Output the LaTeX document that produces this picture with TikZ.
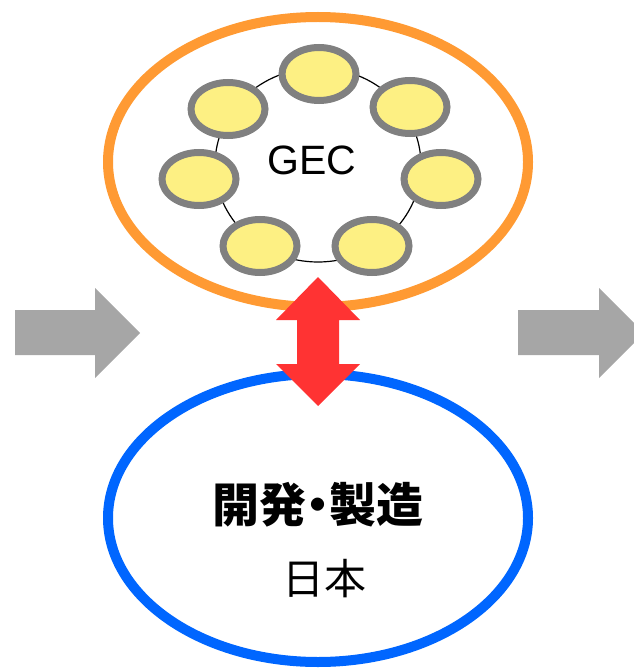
\documentclass[tikz,border=0pt]{standalone}
\usepackage{fontspec}
\setmainfont{Liberation Sans}
\newfontfamily\jp{Noto Sans CJK JP}
\newfontfamily\jpp[RawFeature=+palt]{Noto Sans CJK JP}
\usetikzlibrary{shapes.geometric}
\definecolor{orangeR}{HTML}{FF9A33}
\definecolor{blueR}{HTML}{0066FF}
\definecolor{redR}{HTML}{FF3333}
\definecolor{grayA}{HTML}{A6A6A6}
\definecolor{grayE}{HTML}{808080}
\definecolor{yellowE}{HTML}{FDF083}
\tikzset{
  bigell/.style={ellipse, draw, line width=10pt, minimum width=420pt, inner sep=0pt},
  member/.style={ellipse, draw=grayE, fill=yellowE, line width=7pt, minimum width=74pt, minimum height=53pt, inner sep=0pt},
  flowarrow/.style={fill=grayA, draw=none},
  linkarrow/.style={fill=redR, draw=none}
}
\begin{document}
\begin{tikzpicture}[x=1pt,y=-1pt]
\useasboundingbox (0,0) rectangle (633,668);
\node[bigell, draw=orangeR, minimum height=290pt] (gec) at (318,162) {};
\node[ellipse, draw=black, line width=1.2pt, minimum width=206pt, minimum height=194pt, inner sep=0pt] (ring) at (318,165) {};
\node[member] (m1) at (319,74) {};
\node[member] (m2) at (410,107) {};
\node[member] (m3) at (441,179) {};
\node[member] (m4) at (372,246) {};
\node[member] (m5) at (260,246) {};
\node[member] (m6) at (199,179) {};
\node[member] (m7) at (228,109) {};
\node[font=\fontsize{41}{41}\selectfont] (gectext) at (312,160) {GEC};
\node[bigell, draw=blueR, minimum height=288pt] (jpn) at (318,518) {};
\node[font=\jpp\bfseries\fontsize{47}{47}\selectfont] (dev) at (318,505) {開発・製造};
\node[font=\jp\fontsize{42}{42}\selectfont] (japan) at (324,579) {日本};
\fill[flowarrow] (15,310) -- (95,310) -- (95,288) -- (140,333) -- (95,378) -- (95,355) -- (15,355) -- cycle;
\fill[flowarrow] (518,310) -- (599,310) -- (599,288) -- (644,333) -- (599,378) -- (599,355) -- (518,355) -- cycle;
\fill[linkarrow] (318,277) -- (360,320) -- (339,320) -- (339,364) -- (360,364) -- (318,406) -- (276,364) -- (297,364) -- (297,320) -- (276,320) -- cycle;
\end{tikzpicture}
\end{document}
